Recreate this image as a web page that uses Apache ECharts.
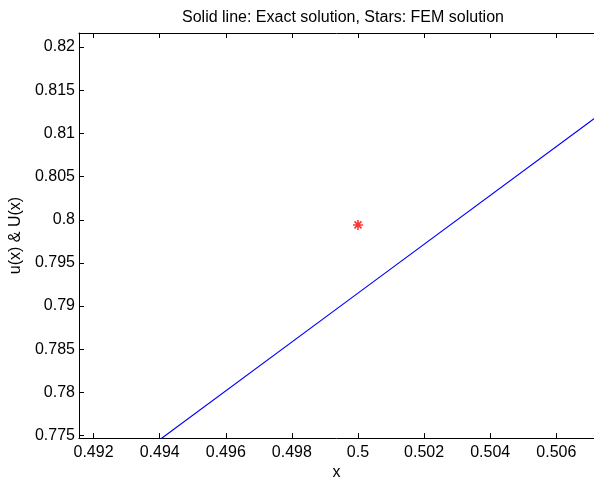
<!DOCTYPE html>
<html>
<head>
<meta charset="utf-8">
<script src="https://cdn.jsdelivr.net/npm/echarts@6/dist/echarts.min.js"></script>
<style>html,body{margin:0;padding:0;background:#fff;}#c{width:594px;height:486px;}</style>
</head>
<body>
<div id="c"></div>
<script>
// Data
const exactX = [0.49, 0.5, 0.51];
const exactY = [0.7632, 0.7915, 0.8198];
const femX = [0.5];
const femY = [0.7994];
const xTicks = [0.492, 0.494, 0.496, 0.498, 0.5, 0.502, 0.504, 0.506];
const yTicks = [0.775, 0.78, 0.785, 0.79, 0.795, 0.8, 0.805, 0.81, 0.815, 0.82];
const xRange = [0.49156, 0.50714];
const yRange = [0.77471, 0.82163];

const FONT = 'Liberation Sans';
const chart = echarts.init(document.getElementById('c'), null, {renderer: 'canvas'});
const fmt = v => String(Number(v.toFixed(4)));
const starPath = 'path://M5,0L5,10M0,5L10,5M1.5,1.5L8.5,8.5M1.5,8.5L8.5,1.5';

chart.setOption({
  animation: false,
  backgroundColor: '#fff',
  title: {
    text: 'Solid line: Exact solution, Stars: FEM solution',
    left: 338, top: 5, textAlign: 'center',
    textStyle: {fontFamily: FONT, fontSize: 16, fontWeight: 'normal', color: '#000'}
  },
  grid: {left: 79, top: 33, right: -4, bottom: 42, containLabel: false},
  xAxis: [{
    type: 'value', min: xRange[0], max: xRange[1],
    name: 'x', nameLocation: 'middle', nameGap: 24,
    nameTextStyle: {fontFamily: FONT, fontSize: 16, color: '#000'},
    axisLine: {show: true, onZero: false, lineStyle: {color: '#000', width: 1}},
    axisTick: {show: true, inside: true, length: 5, customValues: xTicks, lineStyle: {color: '#000'}},
    axisLabel: {show: true, margin: 6, customValues: xTicks, formatter: fmt,
      fontFamily: FONT, fontSize: 16, color: '#000'},
    splitLine: {show: false}
  }, {
    type: 'value', position: 'top', min: xRange[0], max: xRange[1],
    axisLine: {show: true, onZero: false, lineStyle: {color: '#000', width: 1}},
    axisTick: {show: true, inside: true, length: 5, customValues: xTicks, lineStyle: {color: '#000'}},
    axisLabel: {show: false},
    splitLine: {show: false}
  }],
  yAxis: [{
    type: 'value', min: yRange[0], max: yRange[1],
    name: 'u(x) & U(x)', nameLocation: 'middle', nameGap: 51, nameRotate: 90,
    nameTextStyle: {fontFamily: FONT, fontSize: 16, color: '#000'},
    axisLine: {show: true, onZero: false, lineStyle: {color: '#000', width: 1}},
    axisTick: {show: true, inside: true, length: 5, customValues: yTicks, lineStyle: {color: '#000'}},
    axisLabel: {show: true, margin: 4, customValues: yTicks, formatter: fmt,
      fontFamily: FONT, fontSize: 16, color: '#000'},
    splitLine: {show: false}
  }],
  series: [{
    type: 'line',
    data: exactX.map((x, i) => [x, exactY[i]]),
    showSymbol: false, symbol: 'none',
    lineStyle: {color: '#0000ff', width: 1.2},
    clip: true, silent: true
  }, {
    type: 'scatter',
    data: femX.map((x, i) => [x, femY[i]]),
    symbol: starPath, symbolSize: 10,
    itemStyle: {color: 'rgba(0,0,0,0)', borderColor: '#ff0000', borderWidth: 1.6},
    silent: true
  }]
});
</script>
</body>
</html>
